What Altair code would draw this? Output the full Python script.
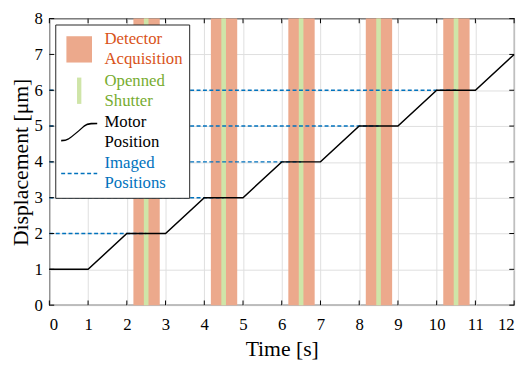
import altair as alt
import pandas as pd

# ---- data ----
motor_time = [0, 1, 2, 3, 4, 5, 6, 7, 8, 9, 10, 11, 12]
motor_pos = [1, 1, 2, 2, 3, 3, 4, 4, 5, 5, 6, 6, 7]

detector_start = [2.17, 4.17, 6.17, 8.17, 10.17]
detector_end = [2.85, 4.85, 6.85, 8.85, 10.85]

shutter_start = [2.44, 4.44, 6.44, 8.44, 10.44]
shutter_end = [2.56, 4.56, 6.56, 8.56, 10.56]

imaged_pos = [2, 3, 4, 5, 6]
imaged_from = [0, 0, 0, 0, 0]
imaged_to = [2.5, 4.5, 6.5, 8.5, 10.5]

x_ticks = list(range(0, 13))
y_ticks = list(range(0, 9))

legend_names = ["Detector Acquisition", "Openned Shutter", "Motor Position", "Imaged Positions"]
legend_symbol_colors = ["#ECA98C", "#CFE5A8", "#000000", "#0072BD"]
legend_text_colors = ["#D95319", "#77AC30", "#000000", "#0072BD"]

FONT = "Liberation Serif"
LINE_H = 20.5

# ---- legend glyph outlines (style only) ----
# symbol box is small (18 px) so it does not inflate the rows; the glyphs are drawn
# larger than the box, moved right to start at the box edge and down by half a line
SYM_SIZE = 324           # 18 px symbol box -> 9 px per path unit
K = 18.3 / 9             # glyph half-width 18.3 px
XS = 9.3 / 9
YS = (LINE_H / 2) / 9


def pt(x, y):
    return f"{x * K + XS:.3f},{y * K + YS:.3f}"


def rect_path(x0, x1, y0, y1):
    return f"M{pt(x0, y0)}L{pt(x1, y0)}L{pt(x1, y1)}L{pt(x0, y1)}Z"


curve_pts = [(-1, 0.475), (-0.77, 0.45), (-0.6, 0.38), (-0.44, 0.27), (-0.05, -0.05),
             (0.27, -0.33), (0.44, -0.43), (0.66, -0.47), (1, -0.475)]
hw = 0.045
fwd = [pt(x, y - hw) for x, y in curve_pts]
back = [pt(x, y + hw) for x, y in reversed(curve_pts)]
curve_path = "M" + " L".join(fwd) + " L" + " L".join(back) + "Z"

dash_segs = [(-1, -0.78), (-0.64, -0.42), (-0.28, -0.06), (0.08, 0.30), (0.44, 0.66), (0.80, 1.0)]
dash_path = " ".join(rect_path(a, b, -0.045, 0.045) for a, b in dash_segs)

legend_shapes = [
    rect_path(-0.71, 0.71, -0.73, 0.73),
    rect_path(-0.12, 0.12, -0.73, 0.73),
    curve_path,
    dash_path,
]

motor_df = pd.DataFrame({"t": motor_time, "pos": motor_pos})
det_df = pd.DataFrame({"a": detector_start, "b": detector_end})
shut_df = pd.DataFrame({"a": shutter_start, "b": shutter_end})
img_df = pd.DataFrame({"a": imaged_from, "b": imaged_to, "p": imaged_pos})
legend_df = pd.DataFrame({"name": legend_names})

tick_len_y = 0.13
tick_len_x = 0.125
xt_bottom = pd.DataFrame({"t": x_ticks, "y0": [0] * len(x_ticks), "y1": [tick_len_y] * len(x_ticks)})
xt_top = pd.DataFrame({"t": x_ticks, "y0": [8 - tick_len_y] * len(x_ticks), "y1": [8] * len(x_ticks)})
yt_left = pd.DataFrame({"v": y_ticks, "x0": [0] * len(y_ticks), "x1": [tick_len_x] * len(y_ticks)})
yt_right = pd.DataFrame({"v": y_ticks, "x0": [12 - tick_len_x] * len(y_ticks), "x1": [12] * len(y_ticks)})

x_scale = alt.Scale(domain=[0, 12], nice=False)
y_scale = alt.Scale(domain=[0, 8], nice=False)

x_axis = alt.Axis(values=x_ticks, title="Time [s]", labelPadding=12, titlePadding=6,
                  format="d", labelOverlap=False)
y_axis = alt.Axis(values=y_ticks, title="Displacement [μm]", labelPadding=7, titlePadding=2,
                  format="d", labelOverlap=False)


def X(f):
    return alt.X(f, scale=x_scale, axis=x_axis)


def Y(f):
    return alt.Y(f, scale=y_scale, axis=y_axis)


detector = alt.Chart(det_df).mark_rect(color="#ECA98C").encode(x=X("a:Q"), x2="b:Q")
shutter = alt.Chart(shut_df).mark_rect(color="#CFE5A8").encode(x=X("a:Q"), x2="b:Q")

imaged = alt.Chart(img_df).mark_rule(color="#0072BD", strokeWidth=1.5, strokeDash=[4, 2.5]).encode(
    x=X("a:Q"), x2="b:Q", y=Y("p:Q"),
)

motor = alt.Chart(motor_df).mark_line(color="black", strokeWidth=1.5).encode(
    x=X("t:Q"), y=Y("pos:Q"),
)

tick_bottom = alt.Chart(xt_bottom).mark_rule(color="black", strokeWidth=1).encode(
    x=X("t:Q"), y=Y("y0:Q"), y2="y1:Q")
tick_top = alt.Chart(xt_top).mark_rule(color="black", strokeWidth=1).encode(
    x=X("t:Q"), y=Y("y0:Q"), y2="y1:Q")
tick_left = alt.Chart(yt_left).mark_rule(color="black", strokeWidth=1).encode(
    y=Y("v:Q"), x=X("x0:Q"), x2="x1:Q")
tick_right = alt.Chart(yt_right).mark_rule(color="black", strokeWidth=1).encode(
    y=Y("v:Q"), x=X("x0:Q"), x2="x1:Q")

color_expr = " : ".join(
    f"datum.label == '{n}' ? '{c}'" for n, c in zip(legend_names, legend_text_colors)
) + " : 'black'"

legend = alt.Legend(
    title=None,
    orient="top-left",
    offset=6,
    padding=6,
    fillColor="white",
    strokeColor="#262626",
    symbolSize=SYM_SIZE,
    symbolStrokeWidth=0,
    labelFont=FONT,
    labelFontSize=17,
    labelLimit=400,
    labelOffset=26,
    rowPadding=4,
    labelExpr="split(datum.label, ' ')",
    labelColor={"expr": color_expr},
)

legend_layer = alt.Chart(legend_df).transform_filter("false").mark_point(
    filled=True, opacity=1, size=SYM_SIZE, strokeWidth=0
).encode(
    color=alt.Color("name:N", scale=alt.Scale(domain=legend_names, range=legend_symbol_colors),
                    legend=legend, sort=legend_names),
    shape=alt.Shape("name:N", scale=alt.Scale(domain=legend_names, range=legend_shapes),
                    legend=legend, sort=legend_names),
)

chart = alt.layer(
    detector, shutter, imaged, motor,
    tick_bottom, tick_top, tick_left, tick_right,
    legend_layer,
).properties(
    width=472, height=291,
    autosize=alt.AutoSizeParams(type="none"),
    padding={"left": 42, "top": 8, "right": 9, "bottom": 58},
).configure(
    style={"guide-label": {"font": FONT, "lineHeight": LINE_H}},
).configure_view(
    stroke="black", strokeWidth=1.2,
).configure_axis(
    labelFont=FONT, labelFontSize=17, labelColor="black",
    titleFont=FONT, titleFontSize=22, titleFontWeight="normal", titleColor="black",
    ticks=False, domain=False,
    grid=True, gridColor="#dedede", gridWidth=1,
).configure_legend(
    labelFont=FONT, labelFontSize=17,
)

chart.save("out.html", embed_options={"renderer": "svg", "actions": False})
